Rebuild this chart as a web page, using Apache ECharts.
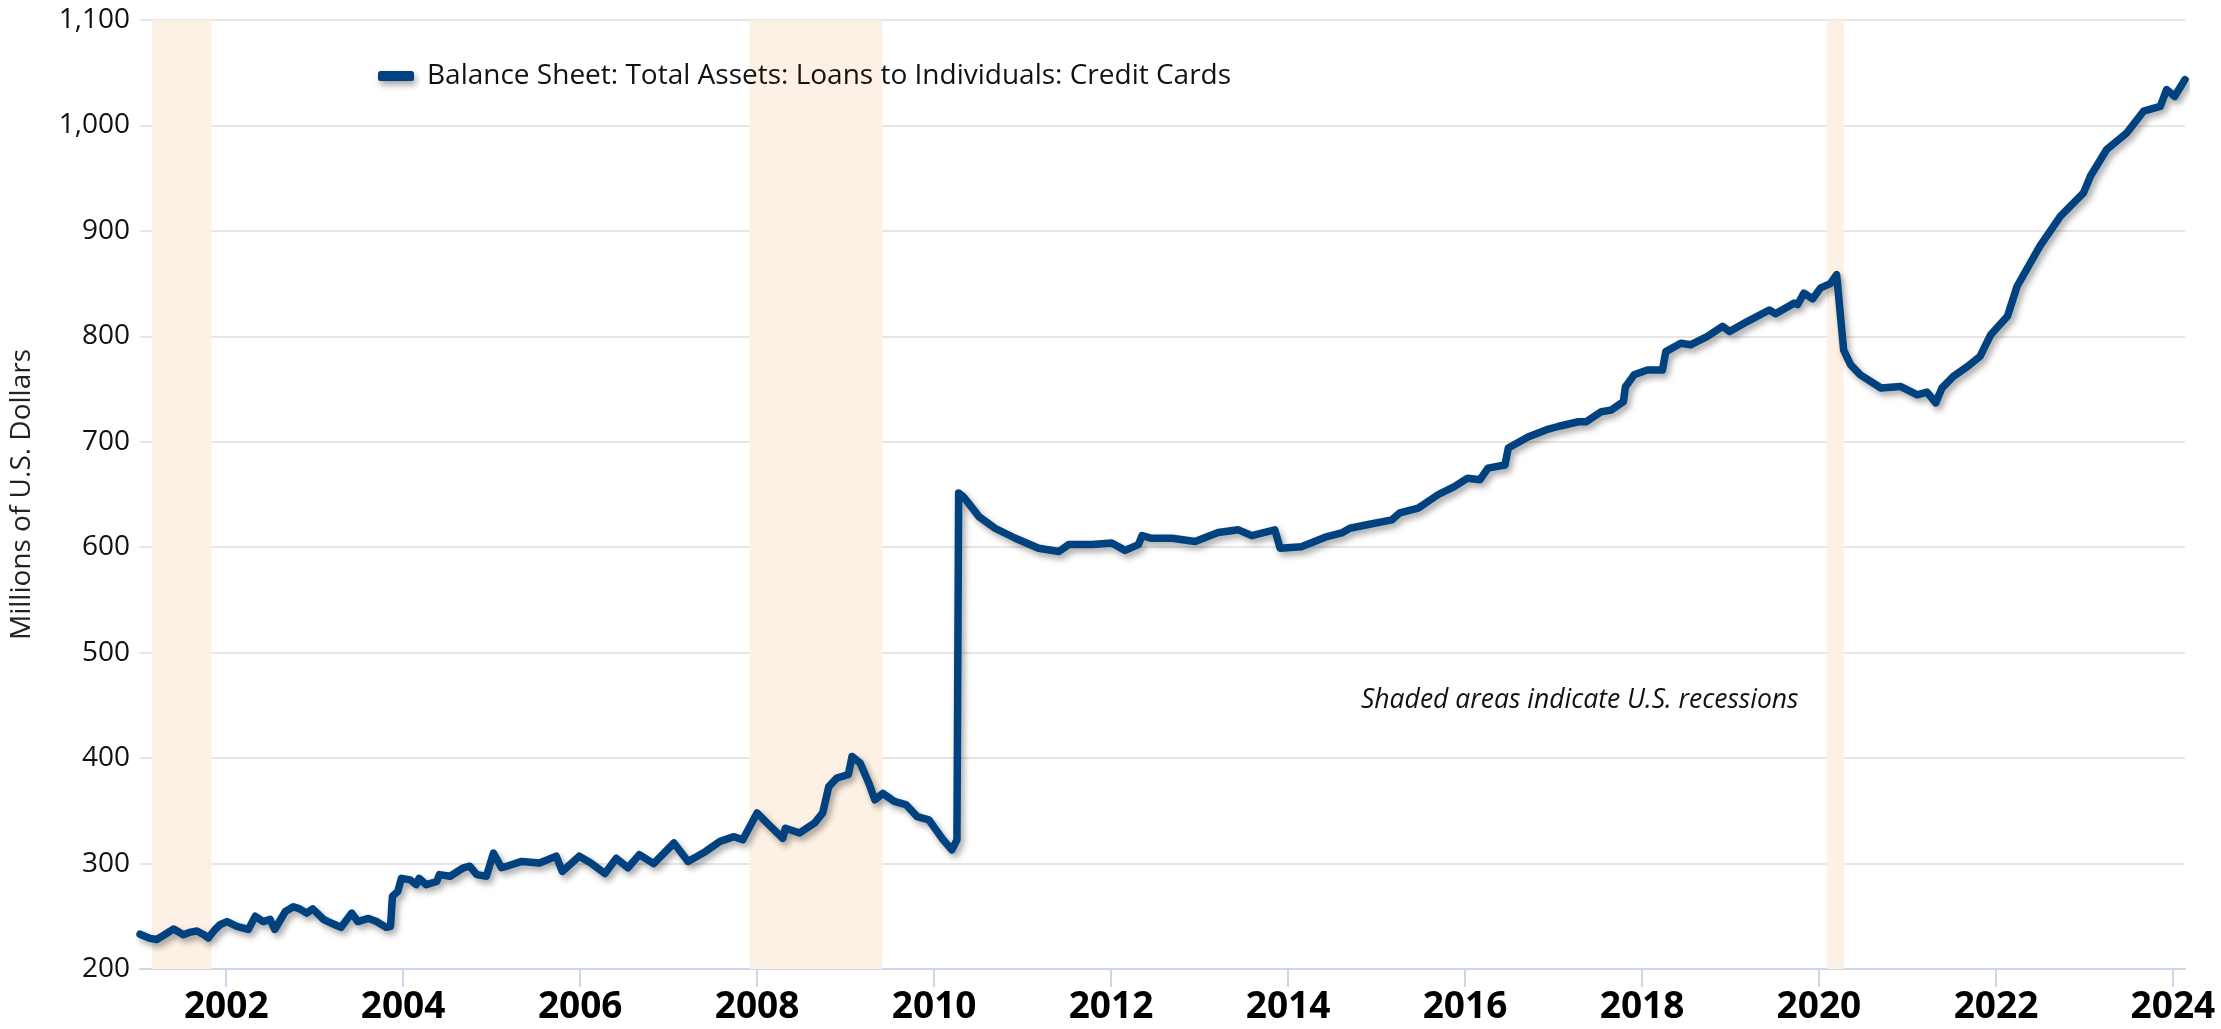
<!DOCTYPE html>
<html>
<head>
<meta charset="utf-8">
<title>Credit Cards</title>
<script src="https://cdn.jsdelivr.net/npm/echarts@6/dist/echarts.min.js"></script>
<style>
    html, body { margin: 0; padding: 0; background: #fff; }
    #chart { width: 2221px; height: 1029px; }
</style>
</head>
<body>
<div id="chart"></div>
<script>
var dates = [
    '2001-01-10', '2001-01-30', '2001-02-21', '2001-03-20', '2001-04-18', '2001-05-29', '2001-07-08', '2001-08-07',
    '2001-09-02', '2001-09-27', '2001-10-19', '2001-11-14', '2001-12-06', '2002-01-04', '2002-02-14', '2002-04-02',
    '2002-05-01', '2002-06-03', '2002-07-01', '2002-07-20', '2002-09-02', '2002-10-05', '2002-10-31', '2002-11-29',
    '2002-12-24', '2003-02-07', '2003-02-25', '2003-03-26', '2003-04-20', '2003-06-03', '2003-06-28', '2003-08-11',
    '2003-09-13', '2003-10-23', '2003-11-10', '2003-11-18', '2003-12-10', '2003-12-25', '2004-01-30', '2004-02-24',
    '2004-03-07', '2004-04-05', '2004-05-19', '2004-05-30', '2004-07-13', '2004-09-06', '2004-10-02', '2004-10-31',
    '2004-12-10', '2005-01-08', '2005-02-10', '2005-02-25', '2005-05-05', '2005-07-17', '2005-09-24', '2005-10-19',
    '2005-12-28', '2006-02-14', '2006-04-13', '2006-05-30', '2006-07-17', '2006-09-02', '2006-10-31', '2007-01-23',
    '2007-03-22', '2007-06-03', '2007-08-01', '2007-09-28', '2007-11-03', '2008-01-01', '2008-02-18', '2008-04-16',
    '2008-04-27', '2008-06-25', '2008-08-26', '2008-09-28', '2008-10-23', '2008-11-25', '2009-01-12', '2009-01-27',
    '2009-03-01', '2009-04-06', '2009-05-01', '2009-06-03', '2009-07-20', '2009-09-06', '2009-10-23', '2009-12-10',
    '2010-02-07', '2010-03-15', '2010-04-05', '2010-04-12', '2010-05-01', '2010-05-22', '2010-07-05', '2010-09-09',
    '2010-12-02', '2011-03-08', '2011-05-31', '2011-07-10', '2011-10-16', '2012-01-04', '2012-02-28', '2012-04-23',
    '2012-05-08', '2012-06-17', '2012-09-09', '2012-12-13', '2013-03-18', '2013-06-10', '2013-08-04', '2013-11-07',
    '2013-11-29', '2014-02-25', '2014-06-03', '2014-08-10', '2014-09-13', '2014-11-28', '2015-03-05', '2015-04-07',
    '2015-06-22', '2015-09-13', '2015-11-18', '2016-01-12', '2016-03-03', '2016-04-05', '2016-06-14', '2016-06-28',
    '2016-09-17', '2016-12-03', '2017-01-19', '2017-04-13', '2017-05-16', '2017-07-17', '2017-08-26', '2017-10-16',
    '2017-10-24', '2017-11-29', '2018-01-23', '2018-03-26', '2018-04-09', '2018-06-10', '2018-07-20', '2018-09-28',
    '2018-11-29', '2018-12-28', '2019-03-11', '2019-06-10', '2019-07-06', '2019-09-21', '2019-10-05', '2019-10-31',
    '2019-12-06', '2020-01-08', '2020-02-17', '2020-03-14', '2020-04-12', '2020-05-11', '2020-06-20', '2020-09-13',
    '2020-12-02', '2021-02-10', '2021-03-22', '2021-04-27', '2021-05-23', '2021-07-09', '2021-09-06', '2021-10-27',
    '2021-12-10', '2022-02-17', '2022-03-29', '2022-07-01', '2022-09-24', '2022-12-28', '2023-01-26', '2023-04-02',
    '2023-06-25', '2023-09-02', '2023-11-10', '2023-12-06', '2024-01-08', '2024-02-20'
];

var values = [
    233, 231, 229, 228, 232, 238, 232.5, 235,
    236, 233, 229.5, 237, 242, 245, 240.5, 237.5,
    250, 245, 247, 237.5, 254.5, 259, 257, 253,
    257, 247, 245, 242, 239.5, 253, 245, 248,
    245, 239.5, 240.5, 269, 273.5, 286, 284.5, 280,
    286, 280, 283, 289.5, 288, 296, 297.5, 289.5,
    288, 310, 296, 297, 302, 300.5, 307, 292.5,
    307, 300.5, 290.5, 305, 296, 308.5, 300, 319.5,
    302, 311.5, 321, 325.5, 322.5, 348, 337, 324,
    333.5, 329, 338.5, 348, 373, 381, 384.5, 401.5,
    395.5, 376.5, 360.5, 366.5, 359, 356, 344.5, 341.5,
    322.5, 313, 322.5, 651.5, 648, 642, 629, 618,
    608.5, 599, 596, 602.5, 602.5, 604, 597, 602.5,
    611, 608.5, 608.5, 605.5, 614, 616.5, 611, 616.5,
    599, 600.5, 609.5, 613.5, 618, 621.5, 626, 632.5,
    637, 650, 657.5, 665.5, 664, 675, 678, 694,
    704.5, 711.5, 714.5, 719, 719, 728.5, 730, 738,
    752, 763.5, 768, 768, 785.5, 793.5, 792, 800,
    809.5, 804.5, 814, 825, 821.5, 831.5, 830, 841,
    835.5, 846, 850, 858.5, 787, 773, 763.5, 751,
    752.5, 744.5, 747, 737, 751, 762, 771.5, 781,
    801.5, 819, 847.5, 885.5, 914, 936, 952, 977,
    993, 1013.5, 1018, 1034, 1027.5, 1043.5
];

var recessions = [
    ['2001-03-01', '2001-11-01'],
    ['2007-12-01', '2009-06-01'],
    ['2020-02-03', '2020-04-12']
];

var tickYears = [2002, 2004, 2006, 2008, 2010, 2012, 2014, 2016, 2018, 2020, 2022, 2024];

var seriesName = 'Balance Sheet: Total Assets: Loans to Individuals: Credit Cards';
var lineColor = '#00417f';

var chart = echarts.init(document.getElementById('chart'));

// dates go on a plain value axis as UTC milliseconds
function ms(d) {
    return Date.parse(d + 'T00:00:00Z');
}

var yearStamps = tickYears.map(function (y) {
    return Date.UTC(y, 0, 1);
});

var points = dates.map(function (d, i) {
    return [ms(d), values[i]];
});

var areas = recessions.map(function (r) {
    return [{xAxis: ms(r[0])}, {xAxis: ms(r[1])}];
});

chart.setOption({
    animation: false,
    grid: {
        left: 137,
        right: 36,
        top: 20,
        bottom: 60,
        containLabel: false
    },
    legend: {
        left: 373,
        top: 57,
        icon: 'roundRect',
        itemWidth: 36,
        itemHeight: 10,
        itemStyle: {
            color: lineColor,
            shadowColor: 'rgba(0,0,0,0.35)',
            shadowBlur: 6,
            shadowOffsetX: 2,
            shadowOffsetY: 4
        },
        textStyle: {
            fontFamily: 'Open Sans',
            fontSize: 28,
            color: '#111',
            padding: [0, 0, 0, 8]
        },
        data: [seriesName]
    },
    xAxis: {
        type: 'value',
        min: ms('2001-01-10'),
        max: ms('2024-02-20'),
        axisLine: {
            lineStyle: {color: '#ccd6eb', width: 2}
        },
        axisTick: {
            show: true,
            length: 18,
            lineStyle: {color: '#ccd6eb', width: 2},
            customValues: yearStamps
        },
        axisLabel: {
            customValues: yearStamps,
            margin: 20,
            fontFamily: 'Open Sans',
            fontWeight: 'bold',
            fontSize: 37,
            color: '#000',
            formatter: function (v) {
                return String(new Date(v).getUTCFullYear());
            }
        },
        splitLine: {show: false}
    },
    yAxis: {
        type: 'value',
        min: 200,
        max: 1100,
        interval: 100,
        name: 'Millions of U.S. Dollars',
        nameLocation: 'middle',
        nameGap: 104,
        nameRotate: 90,
        nameTextStyle: {
            fontFamily: 'Open Sans',
            fontSize: 28,
            color: '#222'
        },
        axisLine: {show: false},
        axisTick: {show: false},
        axisLabel: {
            margin: 10,
            fontFamily: 'Open Sans',
            fontSize: 28,
            color: '#111',
            formatter: function (v) {
                return v.toLocaleString('en-US');
            }
        },
        splitLine: {
            lineStyle: {color: '#e6e6e6', width: 2}
        }
    },
    graphic: [{
        type: 'text',
        left: 1361,
        top: 687,
        style: {
            text: 'Shaded areas indicate U.S. recessions',
            fontFamily: 'Open Sans',
            fontStyle: 'italic',
            fontSize: 26.5,
            fill: '#111'
        }
    }],
    series: [{
        name: 'recessions',
        type: 'line',
        data: [],
        z: 1,
        silent: true,
        markArea: {
            silent: true,
            itemStyle: {color: '#fdf0e4'},
            data: areas
        }
    }, {
        name: seriesName,
        type: 'line',
        data: points,
        z: 3,
        showSymbol: false,
        symbol: 'none',
        lineStyle: {
            color: lineColor,
            width: 7.5,
            cap: 'round',
            join: 'round',
            shadowColor: 'rgba(0,0,0,0.35)',
            shadowBlur: 6,
            shadowOffsetX: 3,
            shadowOffsetY: 4
        },
        itemStyle: {color: lineColor}
    }]
});
</script>
</body>
</html>
